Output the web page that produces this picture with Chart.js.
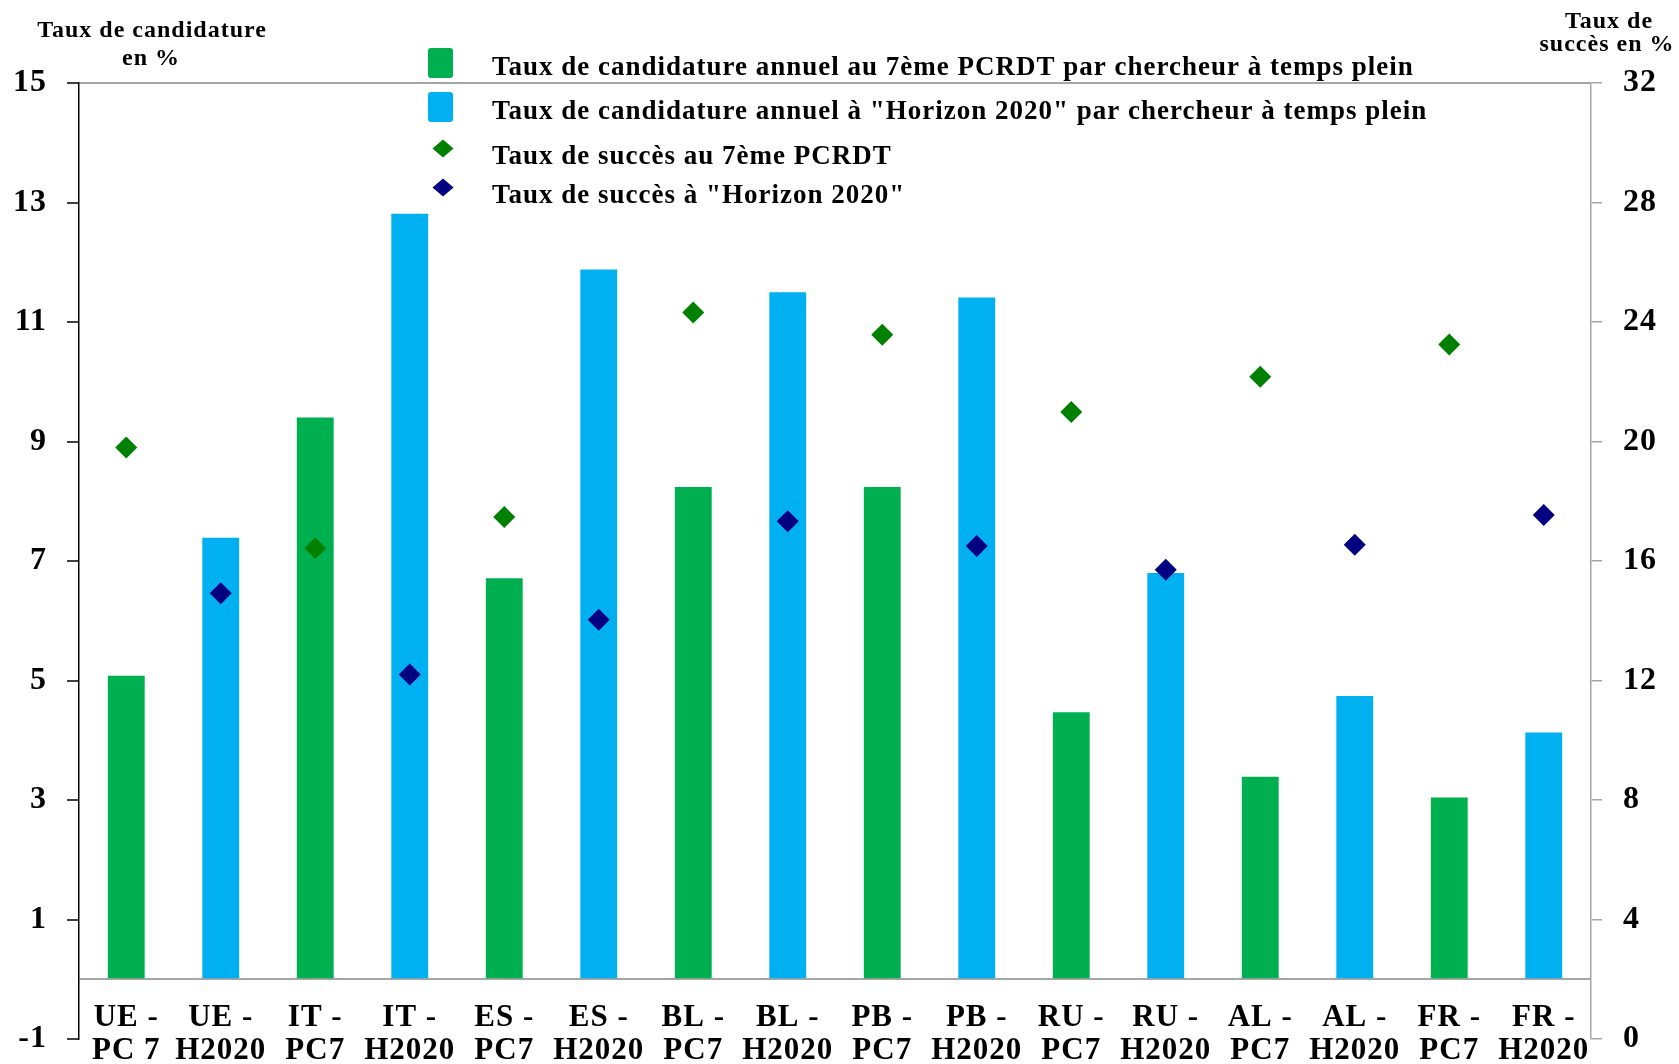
<!DOCTYPE html>
<html>
<head>
<meta charset="utf-8">
<script src="https://cdn.jsdelivr.net/npm/chart.js@4/dist/chart.umd.min.js"></script>
<style>
html,body{margin:0;padding:0;background:#fff;}
#wrap{width:1679px;height:1064px;position:relative;}
</style>
</head>
<body>
<div id="wrap"><canvas id="c" width="1679" height="1064"></canvas></div>
<script>
const categories = [
  ["UE -","PC 7"],["UE -","H2020"],["IT -","PC7"],["IT -","H2020"],
  ["ES -","PC7"],["ES -","H2020"],["BL -","PC7"],["BL -","H2020"],
  ["PB -","PC7"],["PB -","H2020"],["RU -","PC7"],["RU -","H2020"],
  ["AL -","PC7"],["AL -","H2020"],["FR -","PC7"],["FR -","H2020"]
];
const pc7Applications   = [5.08,null,9.40,null,6.71,null,8.24,null,8.24,null,4.47,null,3.39,null,3.04,null];
const h2020Applications = [null,7.39,null,12.81,null,11.88,null,11.50,null,11.41,null,6.80,null,4.74,null,4.13];
const pc7Success   = [19.8,null,16.43,null,17.47,null,24.32,null,23.57,null,20.99,null,22.17,null,23.25,null];
const h2020Success = [null,14.92,null,12.2,null,14.03,null,17.33,null,16.5,null,15.71,null,16.54,null,17.54];
const leftTicks  = [-1,1,3,5,7,9,11,13,15];
const rightTicks = [0,4,8,12,16,20,24,28,32];
const seriesLabels = [
  'Taux de candidature annuel au 7ème PCRDT par chercheur à temps plein',
  'Taux de candidature annuel à "Horizon 2020" par chercheur à temps plein',
  'Taux de succès au 7ème PCRDT',
  'Taux de succès à "Horizon 2020"'
];
const leftTitle = ['Taux de candidature', 'en %'];
const rightTitle = ['Taux de', 'succès en %'];

const FAM = '"Liberation Serif", "Times New Roman", serif';
Chart.defaults.font.family = FAM;
Chart.defaults.color = '#000';

const spacingPlugin = {
  id: 'spacing',
  beforeUpdate(chart) { chart.ctx.letterSpacing = '1px'; },
  beforeDraw(chart) { chart.ctx.letterSpacing = '1px'; }
};

const overlayPlugin = {
  id: 'overlay',
  afterDraw(chart) {
    const ctx = chart.ctx;
    ctx.save();
    ctx.letterSpacing = '1px';
    // axis titles
    ctx.fillStyle = '#000';
    ctx.font = 'bold 24px ' + FAM;
    ctx.textAlign = 'center';
    ctx.textBaseline = 'alphabetic';
    ctx.fillText(leftTitle[0], 152, 37);
    ctx.fillText(leftTitle[1], 151, 65);
    ctx.fillText(rightTitle[0], 1609, 28);
    ctx.fillText(rightTitle[1], 1607, 51);
    // legend
    const ds = chart.data.datasets;
    const markerBase = [75, 119, 159, 198];
    const textBase = [75, 119, 164, 203];
    ctx.textAlign = 'left';
    ctx.font = 'bold 27px ' + FAM;
    ds.forEach((d, i) => {
      const by = markerBase[i];
      ctx.fillStyle = d.backgroundColor;
      if (d.type === 'bar') {
        const cy = by - 12;
        ctx.beginPath();
        ctx.roundRect(428, cy - 15, 25, 30, 3);
        ctx.fill();
      } else {
        const cx = 443, cy = by - 10.5;
        ctx.beginPath();
        ctx.moveTo(cx, cy - 9);
        ctx.lineTo(cx + 10.5, cy);
        ctx.lineTo(cx, cy + 9);
        ctx.lineTo(cx - 10.5, cy);
        ctx.closePath();
        ctx.fill();
      }
      ctx.fillStyle = '#000';
      ctx.fillText(d.label, 492, textBase[i]);
    });
    ctx.restore();
  }
};

const tickFont = {size: 32, weight: 'bold', family: FAM};

new Chart(document.getElementById('c'), {
  data: {
    labels: categories,
    datasets: [
      {type: 'bar', label: seriesLabels[0], data: pc7Applications, backgroundColor: '#00B050',
       grouped: false, barPercentage: 0.39, categoryPercentage: 1, yAxisID: 'y', order: 2},
      {type: 'bar', label: seriesLabels[1], data: h2020Applications, backgroundColor: '#00B0F0',
       grouped: false, barPercentage: 0.39, categoryPercentage: 1, yAxisID: 'y', order: 2},
      {type: 'line', label: seriesLabels[2], data: pc7Success, showLine: false, pointStyle: 'rectRot',
       pointRadius: 11, pointBorderWidth: 0, backgroundColor: '#008000', borderColor: '#008000',
       yAxisID: 'y2', order: 1},
      {type: 'line', label: seriesLabels[3], data: h2020Success, showLine: false, pointStyle: 'rectRot',
       pointRadius: 11, pointBorderWidth: 0, backgroundColor: '#000080', borderColor: '#000080',
       yAxisID: 'y2', order: 1}
    ]
  },
  options: {
    responsive: false,
    devicePixelRatio: 1,
    animation: false,
    layout: {padding: {top: 83, left: 0, right: 0, bottom: 25}},
    plugins: {legend: {display: false}, tooltip: {enabled: false}},
    scales: {
      x: {
        type: 'category',
        axis: 'x',
        position: {y: -1},
        grid: {display: false},
        border: {display: false},
        ticks: {font: {size: 31, weight: 'bold', family: FAM, lineHeight: 1.08}, color: '#000',
                padding: -46, maxRotation: 0, autoSkip: false}
      },
      y: {
        type: 'linear', position: 'left', min: -1, max: 15,
        afterBuildTicks: s => { s.ticks = [...leftTicks, 0].sort((a, b) => a - b).map(v => ({value: v})); },
        ticks: {font: tickFont, color: '#000', padding: 20, callback: v => v === 0 ? '' : String(v)},
        grid: {
          color: c => (c.tick && (c.tick.value === 0 || c.tick.value === 15)) ? '#a6a6a6' : 'rgba(0,0,0,0)',
          lineWidth: 2,
          tickColor: c => (c.tick && c.tick.value === 0) ? 'rgba(0,0,0,0)' : '#404040',
          tickLength: 12
        },
        border: {color: '#000', width: 1.5},
        afterFit: s => { s.width = 79; s.paddingTop = 0; s.paddingBottom = 0; }
      },
      y2: {
        type: 'linear', position: 'right', min: 0, max: 32,
        afterBuildTicks: s => { s.ticks = rightTicks.map(v => ({value: v})); },
        ticks: {font: tickFont, color: '#000', padding: 21},
        grid: {drawOnChartArea: false, tickLength: 11, tickColor: '#a6a6a6', lineWidth: 1.5},
        border: {color: '#a6a6a6', width: 1.5},
        afterFit: s => { s.width = 88; s.paddingTop = 0; s.paddingBottom = 0; }
      }
    }
  },
  plugins: [spacingPlugin, overlayPlugin]
});
</script>
</body>
</html>
